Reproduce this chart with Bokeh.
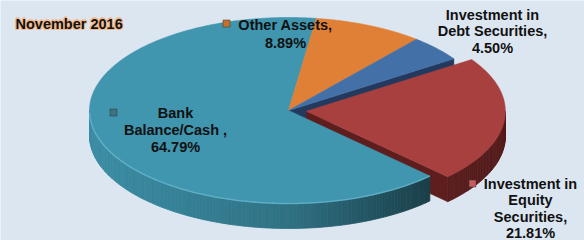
import math
import numpy as np
from bokeh.plotting import figure
from bokeh.models import Range1d, ColumnDataSource
from bokeh.embed import file_html
from bokeh.resources import INLINE
from bokeh.core.properties import value

# ---------------- data ----------------
categories = ["Bank Balance/Cash", "Other Assets",
              "Investment in Debt Securities", "Investment in Equity Securities"]
shares = [64.79, 8.89, 4.50, 21.81]
label_lines = [
    ["Bank", "Balance/Cash ,", "64.79%"],
    ["Other Assets,", "8.89%"],
    ["Investment in", "Debt Securities,", "4.50%"],
    ["Investment in", "Equity", "Securities,", "21.81%"],
]
title_text = "November 2016"

# ---------------- style / layout ----------------
BG = "#DCE6F1"
FONT = "Liberation Sans"
FSIZE = "14.5px"
top_colors = ["#4095AF", "#E07F36", "#4470A8", "#A8403F"]
wall_rgb = [(60, 142, 165), (176, 96, 38), (45, 72, 115), (112, 38, 38)]
wall_strength = [1.0, 1.0, 1.0, 0.35]
cut_colors = ["#2C6B7E", "#A85A20", "#233A5E", "#5E1E1E"]
explode = [0.0, 0.0, 0.0, 0.09]
label_pos = [(175, 112), (285, 24), (492, 14), (530, 183)]
label_step = [17, 18, 16.5, 16.5]
marker_pos = [(113, 112), (226, 23), None, (472, 183)]
marker_colors = ["#3E7384", "#C8702A", None, "#C65C5C"]
CX, CY, RX, RY, DEPTH = 288, 110, 199, 93, 25
TOP_BOUNDARY = 82.0  # angle (deg) where the first slice ends

# slice angles (clockwise from the first slice start)
sweeps = [360.0 * s / sum(shares) for s in shares]
a0s, a1s = [], []
start = TOP_BOUNDARY + sweeps[0]
for sw in sweeps:
    a0s.append(start)
    a1s.append(start - sw)
    start -= sw
offsets = []
for i in range(len(shares)):
    mid = math.radians((a0s[i] + a1s[i]) / 2)
    offsets.append((explode[i] * RX * math.cos(mid), -explode[i] * RY * math.sin(mid)))


def P(t, i, dz=0.0):
    r = math.radians(t)
    ox, oy = offsets[i]
    return CX + ox + RX * math.cos(r), CY + oy - RY * math.sin(r) + dz


def apex(i, dz=0.0):
    ox, oy = offsets[i]
    return CX + ox, CY + oy + dz


def shade(rgb, u, s):
    f = 1.0 - s * (0.2 * (u + 1) + 0.3 * max(u, 0.0))
    return "#%02x%02x%02x" % tuple(max(0, min(255, int(c * f))) for c in rgb)


p = figure(width=584, height=240, x_range=Range1d(0, 584), y_range=Range1d(240, 0),
           output_backend="svg", toolbar_location=None, x_axis_type=None, y_axis_type=None,
           min_border=0, background_fill_color=BG, border_fill_color=BG)
p.grid.visible = False
p.outline_line_color = None

n = len(shares)

# ---- cut faces (visible because of the exploded slice) ----
cx_, cy_, cc_ = [], [], []
for i in range(n):
    nxt = (i + 1) % n
    if explode[i] > 0 or explode[nxt] > 0:
        t = a1s[i]
        if math.sin(math.radians(t - 90)) < -0.05:
            ax, ay = apex(i)
            ex, ey = P(t, i)
            cx_.append([ax, ex, ex, ax])
            cy_.append([ay, ey, ey + DEPTH, ay + DEPTH])
            cc_.append(cut_colors[i])
p.patches(xs="xs", ys="ys", fill_color="c", line_color="c", line_width=0.5,
          source=ColumnDataSource(dict(xs=cx_, ys=cy_, c=cc_)))

# ---- outer walls ----
wx, wy, wc = [], [], []
for i in range(n):
    ts = np.linspace(a0s[i], a1s[i], int(abs(sweeps[i])) + 2)
    for k in range(len(ts) - 1):
        tm = (ts[k] + ts[k + 1]) / 2
        if math.sin(math.radians(tm)) < 0:
            x1, y1 = P(ts[k], i)
            x2, y2 = P(ts[k + 1], i)
            wx.append([x1, x2, x2, x1])
            wy.append([y1, y2, y2 + DEPTH, y1 + DEPTH])
            wc.append(shade(wall_rgb[i], math.cos(math.radians(tm)), wall_strength[i]))
p.patches(xs="xs", ys="ys", fill_color="c", line_color="c", line_width=0.8,
          source=ColumnDataSource(dict(xs=wx, ys=wy, c=wc)))

# ---- top surfaces ----
tx, ty, tc = [], [], []
for i in range(n):
    ts = np.linspace(a0s[i], a1s[i], int(abs(sweeps[i])) * 2 + 2)
    ax, ay = apex(i)
    tx.append([ax] + [P(t, i)[0] for t in ts])
    ty.append([ay] + [P(t, i)[1] for t in ts])
    tc.append(top_colors[i])
p.patches(xs="xs", ys="ys", fill_color="c", line_color="c", line_width=0.6,
          source=ColumnDataSource(dict(xs=tx, ys=ty, c=tc)))

# rim highlight on the front edge of the big slice
rim_t = [t for t in np.linspace(a0s[0], a1s[0], 240) if math.sin(math.radians(t)) < -0.02]
p.line([P(t, 0)[0] for t in rim_t], [P(t, 0)[1] for t in rim_t],
       line_color="#6DBAD2", line_width=1.5, line_alpha=0.7)

# ---- data labels ----
lx, ly, lt = [], [], []
for i in range(n):
    x0, y0 = label_pos[i]
    for j, line in enumerate(label_lines[i]):
        lx.append(x0)
        ly.append(y0 + label_step[i] * j)
        lt.append(line)
p.text(x="x", y="y", text="t", source=ColumnDataSource(dict(x=lx, y=ly, t=lt)),
       text_align="center", text_baseline="middle", text_font=value(FONT),
       text_font_style="bold", text_font_size=FSIZE, text_color="#111111")

mx = [m[0] for m in marker_pos if m]
my = [m[1] for m in marker_pos if m]
mc = [c for c in marker_colors if c]
p.scatter(mx, my, marker="square", size=7, fill_color=mc, line_color="#333333",
          line_width=0.5)

# ---- title with glow ----
gx, gy = [], []
for dx, dy in [(-1.3, 0), (1.3, 0), (0, -1.3), (0, 1.3), (-1, -1), (1, 1), (-1, 1), (1, -1)]:
    gx.append(15 + dx)
    gy.append(23 + dy)
p.text(x=gx, y=gy, text=[title_text] * len(gx), text_align="left", text_baseline="middle",
       text_font=value(FONT), text_font_style="bold", text_font_size="14.5px",
       text_color="#F2B98C", text_alpha=0.85)
p.text(x=[15], y=[23], text=[title_text], text_align="left", text_baseline="middle",
       text_font=value(FONT), text_font_style="bold", text_font_size="14.5px",
       text_color="#111111")

open("out.html", "w").write(file_html(p, INLINE))
